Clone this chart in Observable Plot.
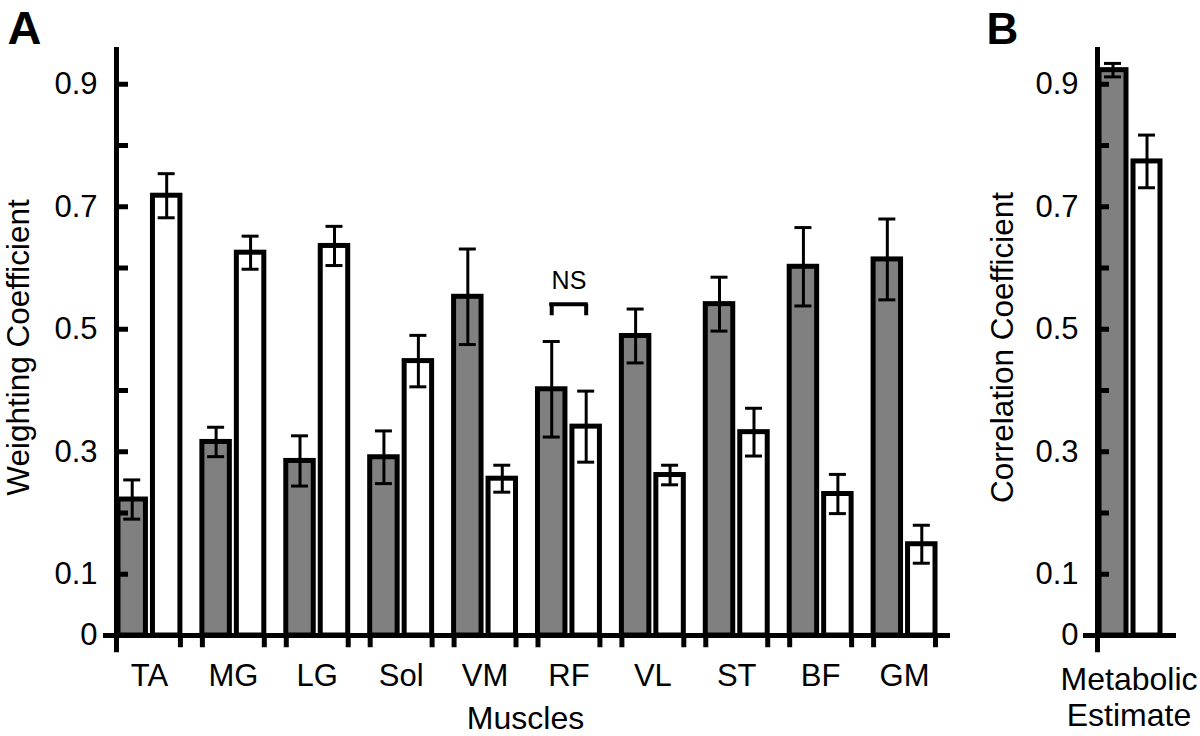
<!DOCTYPE html>
<html>
<head>
<meta charset="utf-8">
<script src="https://cdn.jsdelivr.net/npm/d3@7"></script>
<script src="https://cdn.jsdelivr.net/npm/@observablehq/plot@0.6"></script>
<style>
  body { margin: 0; background: #fff; }
  #wrap { display: flex; width: 1200px; height: 736px; background: #fff; }
  #wrap svg { display: block; }
</style>
</head>
<body>
<div id="wrap"></div>
<script>
// ---------- Data ----------
const muscles = ["TA", "MG", "LG", "Sol", "VM", "RF", "VL", "ST", "BF", "GM"];
const filledValues = [0.222, 0.316, 0.285, 0.291, 0.553, 0.402, 0.489, 0.541, 0.602, 0.614];
const filledErrors = [0.032, 0.024, 0.041, 0.043, 0.078, 0.078, 0.044, 0.044, 0.064, 0.066];
const openValues   = [0.718, 0.625, 0.636, 0.448, 0.256, 0.341, 0.262, 0.332, 0.231, 0.149];
const openErrors   = [0.036, 0.027, 0.032, 0.042, 0.022, 0.058, 0.016, 0.039, 0.032, 0.031];

const metabolicCategory = ["Metabolic\nEstimate"];
const metabolicFilled = [0.923];
const metabolicFilledErr = [0.011];
const metabolicOpen = [0.774];
const metabolicOpenErr = [0.043];

const yTickLabels = [0, 0.1, 0.3, 0.5, 0.7, 0.9];
const yTickMarks = [0.1, 0.2, 0.3, 0.4, 0.5, 0.6, 0.7, 0.8, 0.9];
const yDomain = [0, 0.96];

const nsMuscle = ["RF"];
const nsLevel = [0.541];
const nsLegBottom = [0.522];
const nsText = ["NS"];

// ---------- Layout ----------
const H = 736, MT = 47, MB = 101;
const FONT = "'Liberation Sans', Arial, Helvetica, sans-serif";
const GRAY = "#808080";
const GAP = 7, CAP = 17;
const BELOW_AXIS = -0.028, BELOW_TICK = -0.02;

function makePanel({width, marginLeft, marginRight, domain, padInner, padOuter,
                    filled, open, yLabel, yLabelDx, letter, letterDx, letterSize, tickPadding,
                    showEdgeTicks, xAxis, extra}) {
  const bw = d3.scaleBand().domain(domain).range([marginLeft, width - marginRight])
    .paddingInner(padInner).paddingOuter(padOuter).bandwidth();
  const barW = (bw - GAP) / 2;
  const barInset = bw - barW;
  const off = bw / 2 - barW / 2;
  const first = domain[0];

  const marks = [
    Plot.barY(filled, {x: "k", y: "v", fill: GRAY, stroke: "black", strokeWidth: 5, insetRight: barInset}),
    Plot.barY(open, {x: "k", y: "v", fill: "white", stroke: "black", strokeWidth: 5, insetLeft: barInset}),
    // error bars
    Plot.ruleX(filled, {x: "k", y1: d => d.v - d.e, y2: d => d.v + d.e, dx: -off, stroke: "black", strokeWidth: 3}),
    Plot.ruleX(open, {x: "k", y1: d => d.v - d.e, y2: d => d.v + d.e, dx: off, stroke: "black", strokeWidth: 3}),
    Plot.tickY(filled, {x: "k", y: d => d.v + d.e, insetLeft: barW / 2 - CAP / 2, insetRight: bw - barW / 2 - CAP / 2, stroke: "black", strokeWidth: 3}),
    Plot.tickY(filled, {x: "k", y: d => d.v - d.e, insetLeft: barW / 2 - CAP / 2, insetRight: bw - barW / 2 - CAP / 2, stroke: "black", strokeWidth: 3}),
    Plot.tickY(open, {x: "k", y: d => d.v + d.e, insetLeft: bw - barW / 2 - CAP / 2, insetRight: barW / 2 - CAP / 2, stroke: "black", strokeWidth: 3}),
    Plot.tickY(open, {x: "k", y: d => d.v - d.e, insetLeft: bw - barW / 2 - CAP / 2, insetRight: barW / 2 - CAP / 2, stroke: "black", strokeWidth: 3}),
    // x baseline
    Plot.ruleY([0], {stroke: "black", strokeWidth: 5}),
    // y axis line
    Plot.ruleX([first], {y1: BELOW_AXIS, y2: yDomain[1], dx: -bw / 2 - 2, stroke: "black", strokeWidth: 5}),
    // inward y ticks
    Plot.tickY(yTickMarks, {x: () => first, y: d => d, insetLeft: -2, insetRight: bw - 10, stroke: "black", strokeWidth: 5}),
    // y label
    Plot.text([yLabel], {frameAnchor: "left", rotate: -90, textAnchor: "middle", lineAnchor: "middle", dx: yLabelDx, dy: 6, fontSize: 31.5, fill: "black"}),
    // panel letter
    Plot.text([letter], {frameAnchor: "top-left", textAnchor: "start", lineAnchor: "bottom", dx: letterDx, dy: -4, fontSize: letterSize, fontWeight: "bold", fill: "black"})
  ];
  if (showEdgeTicks) {
    marks.push(
      Plot.ruleX(domain.slice(1), {y1: 0, y2: BELOW_TICK, dx: -bw / 2, stroke: "black", strokeWidth: 5}),
      Plot.ruleX(domain, {y1: 0, y2: BELOW_TICK, dx: bw / 2, stroke: "black", strokeWidth: 5})
    );
  }
  if (extra) marks.push(...extra(bw, barW, off));

  return Plot.plot({
    width, height: H,
    marginLeft, marginRight, marginTop: MT, marginBottom: MB,
    style: {fontFamily: FONT, fontSize: "31px", color: "black", background: "white"},
    x: Object.assign({type: "band", domain, paddingInner: padInner, paddingOuter: padOuter, align: 0.5, round: false, label: null}, xAxis),
    y: {domain: yDomain, ticks: yTickLabels, tickSize: 0, tickPadding, tickFormat: d => String(d), label: null},
    marks
  });
}

const filledA = muscles.map((k, i) => ({k, v: filledValues[i], e: filledErrors[i]}));
const openA = muscles.map((k, i) => ({k, v: openValues[i], e: openErrors[i]}));
const nsData = nsMuscle.map((k, i) => ({k, y: nsLevel[i], y0: nsLegBottom[i], t: nsText[i]}));

const panelA = makePanel({
  width: 965, marginLeft: 103, marginRight: 15, domain: muscles,
  padInner: 22 / 84, padOuter: 15 / 84,
  filled: filledA, open: openA,
  yLabel: "Weighting Coefficient", yLabelDx: 18 - 103,
  letter: "A", letterDx: 7 - 103, letterSize: 47, tickPadding: 6,
  showEdgeTicks: true,
  xAxis: {tickSize: 0, tickPadding: 28},
  extra: (bw, barW, off) => [
    Plot.tickY(nsData, {x: "k", y: "y", insetLeft: barW / 2 - 2, insetRight: barW / 2 - 2, stroke: "black", strokeWidth: 4}),
    Plot.ruleX(nsData, {x: "k", y1: "y0", y2: "y", dx: -off, stroke: "black", strokeWidth: 4}),
    Plot.ruleX(nsData, {x: "k", y1: "y0", y2: "y", dx: off, stroke: "black", strokeWidth: 4}),
    Plot.text(nsData, {x: "k", y: "y", text: "t", dy: -23, fontSize: 25, fill: "black"}),
    Plot.text(["Muscles"], {frameAnchor: "bottom", textAnchor: "middle", lineAnchor: "bottom", dx: -1.5, dy: 93, fontSize: 32, fill: "black"})
  ]
});

const filledB = metabolicCategory.map((k, i) => ({k, v: metabolicFilled[i], e: metabolicFilledErr[i]}));
const openB = metabolicCategory.map((k, i) => ({k, v: metabolicOpen[i], e: metabolicOpenErr[i]}));

const panelB = makePanel({
  width: 235, marginLeft: 118, marginRight: 24, domain: metabolicCategory,
  padInner: 0, padOuter: 16 / 61,
  filled: filledB, open: openB,
  yLabel: "Correlation Coefficient", yLabelDx: 37 - 118,
  letter: "B", letterDx: 986 - 965 - 118, letterSize: 44, tickPadding: 5,
  showEdgeTicks: false,
  xAxis: {axis: null},
  extra: () => [
    Plot.text(metabolicCategory, {x: d => d, y: () => 0, text: d => d, lineAnchor: "top", lineHeight: 1.125, dx: -1, dy: 28.5, fontSize: 32, fill: "black"})
  ]
});

const wrap = document.getElementById("wrap");
wrap.appendChild(panelA);
wrap.appendChild(panelB);
</script>
</body>
</html>
